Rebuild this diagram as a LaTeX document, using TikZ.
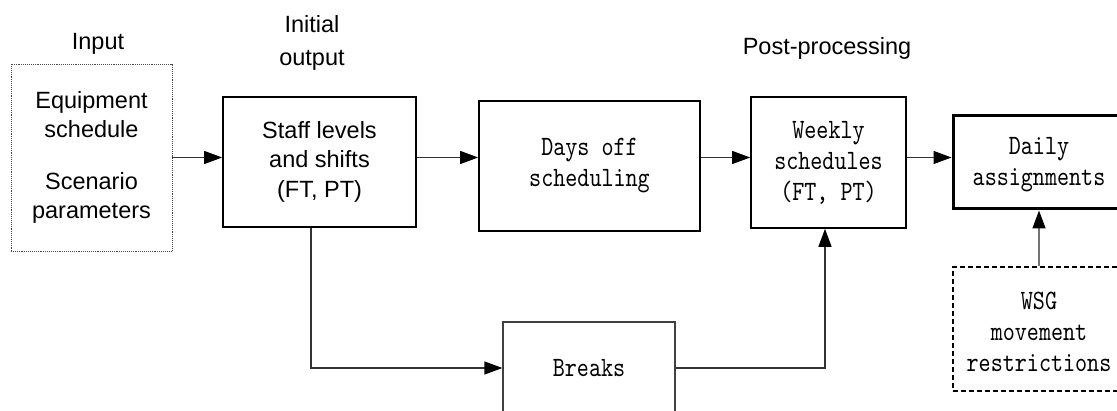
\documentclass[tikz,border=0pt]{standalone}
\usepackage{fontspec}
\setmainfont{Liberation Sans}
\newfontfamily\monofnt[FakeStretch=0.82]{lmmono10-regular.otf}
\usetikzlibrary{arrows.meta}

\tikzset{
  sanstext/.style={font=\fontsize{23.5}{29.5}\selectfont, align=center, inner sep=0pt},
  monotext/.style={font=\monofnt\fontsize{28}{31}\selectfont, align=center},
  box/.style={draw=black, line width=1.6pt, inner sep=0pt},
  inbox/.style={draw=black!70, line width=0.9pt, densely dotted, inner sep=0pt},
  thinbox/.style={draw=black!75, line width=1.2pt, inner sep=0pt},
  thickbox/.style={draw=black, line width=3pt, inner sep=0pt},
  dashbox/.style={draw=black, line width=1.5pt, dash pattern=on 5pt off 3pt, inner sep=0pt},
  flow/.style={draw=black!80, line width=1.2pt, -{Triangle[length=18pt,width=13pt,color=black,fill=black]}},
  grayflow/.style={draw=black!55, line width=1.5pt, -{Triangle[length=18pt,width=13pt,color=black,fill=black]}},
}

\begin{document}
\begin{tikzpicture}[x=1pt, y=-1pt]
  \useasboundingbox (0,0) rectangle (1117,411);
  \clip (0,0) rectangle (1117,411);

  % stage headings
  \node[sanstext, anchor=base] (hinput) at (98,50) {Input};
  \node[sanstext] (hinit) at (312,43) {Initial\\[3pt]output};
  \node[sanstext, anchor=base] (hpost) at (827,55) {Post-processing};

  % boxes
  \node[inbox, minimum width=161, minimum height=187] (input) at (91.5,157.5) {};
  \node[sanstext] at (91.5,157.5) {Equipment\\schedule\\[22pt]Scenario\\parameters};

  \node[box, minimum width=193, minimum height=130] (staff) at (319.5,162) {};
  \node[sanstext] at (319.5,161.5) {Staff levels\\and shifts\\(FT, PT)};

  \node[box, minimum width=221, minimum height=130] (days) at (589.5,166) {};
  \node[monotext] at (589.5,166) {Days off\\scheduling};

  \node[box, minimum width=155, minimum height=131] (weekly) at (828.5,162.5) {};
  \node[monotext] at (828.5,162.5) {Weekly\\schedules\\(FT, PT)};

  \node[thickbox, minimum width=172, minimum height=93] (daily) at (1039,162.5) {};
  \node[monotext] at (1039,165) {Daily\\assignments};

  \node[dashbox, minimum width=172, minimum height=124] (wsg) at (1039,329) {};
  \node[monotext] at (1039,332) {WSG\\movement\\restrictions};

  \node[thinbox, minimum width=172, minimum height=92] (breaks) at (589,368) {};
  \node[monotext] at (589,368) {Breaks};

  % connectors
  \draw[flow] (input.east) -- (input.east -| staff.west);
  \draw[flow] (staff.east |- input.east) -- (days.west |- input.east);
  \draw[flow] (days.east |- input.east) -- (weekly.west |- input.east);
  \draw[flow] (weekly.east |- input.east) -- (daily.west |- input.east);
  \draw[flow] ([xshift=-8.5pt]staff.south) |- (breaks.west);
  \draw[flow] (breaks.east) -| ([xshift=-3.5pt]weekly.south);
  \draw[grayflow] (wsg.north) -- (daily.south);
\end{tikzpicture}
\end{document}
